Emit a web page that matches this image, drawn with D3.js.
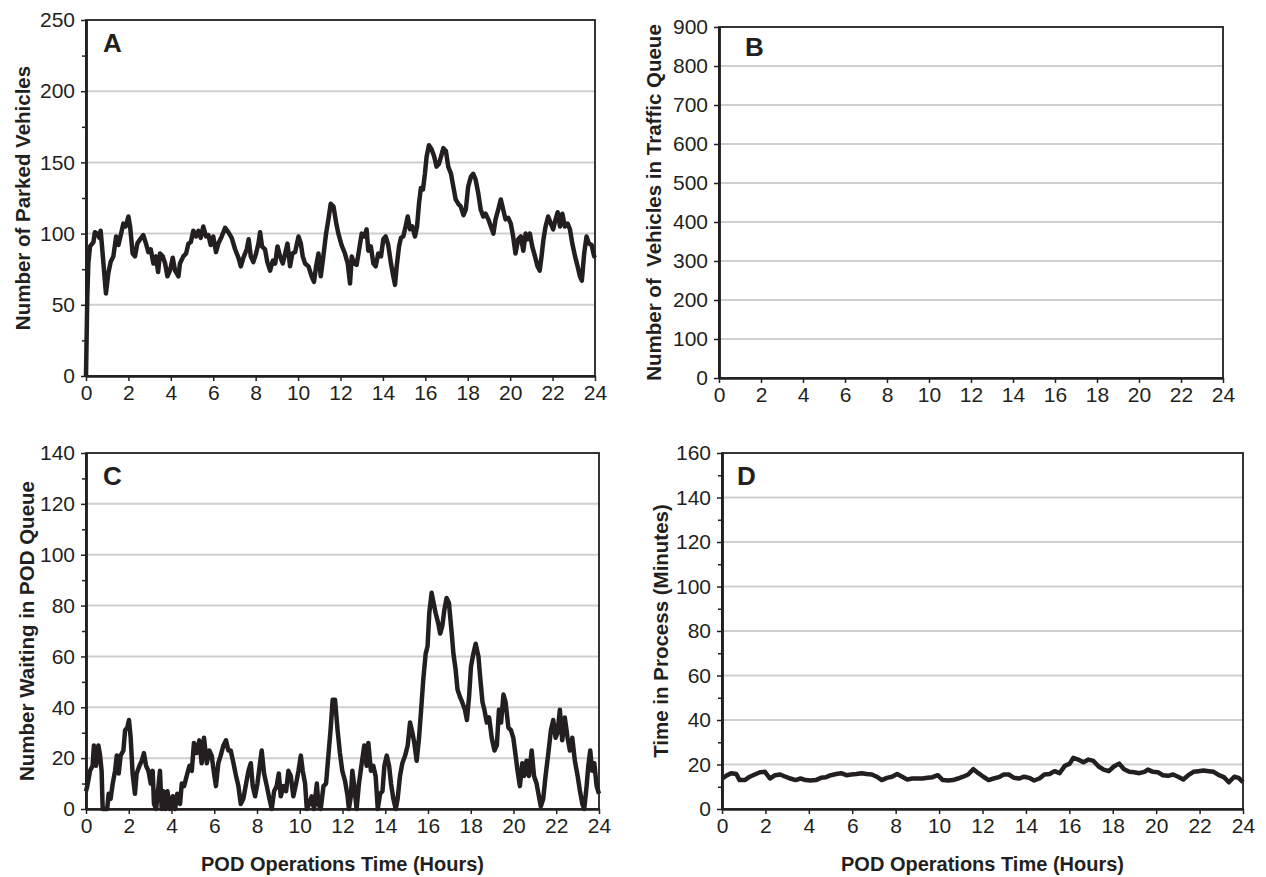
<!DOCTYPE html>
<html>
<head>
<meta charset="UTF-8">
<title>POD operations</title>
<style>
  body { margin: 0; background: #fff; }
  svg { display: block; font-family: "Liberation Sans", Arial, Helvetica, sans-serif; }
  .axis text { font-size: 21px; fill: #231f20; }
  .axis line, .axis path { stroke: #231f20; }
  .axis path.domain { stroke-width: 2.5px; }
  .axis .tick line { stroke-width: 1.5px; }
  .grid { stroke: #cfcfcf; stroke-width: 2px; }
  .frame { fill: none; stroke: #231f20; stroke-width: 1.8px; }
  .series { fill: none; stroke: #231f20; stroke-width: 4.5px; stroke-linejoin: round; }
  .ytitle { font-size: 20.5px; font-weight: bold; fill: #231f20; }
  .xtitle { font-size: 20px; font-weight: bold; fill: #231f20; }
  .letter { font-size: 26px; font-weight: bold; fill: #231f20; }
</style>
</head>
<body>
<svg width="1266" height="877"></svg>
<script src="https://cdn.jsdelivr.net/npm/d3@7"></script>
<script>
// x ticks shared by all panels (hours)
const hourTicks = [0, 2, 4, 6, 8, 10, 12, 14, 16, 18, 20, 22, 24];

// y ticks
const parkedTicks = [0, 50, 100, 150, 200, 250];
const parkedMinor = [25, 75, 125, 175, 225];
const trafficTicks = [0, 100, 200, 300, 400, 500, 600, 700, 800, 900];
const waitingTicks = [0, 20, 40, 60, 80, 100, 120, 140];
const waitingMinor = [10, 30, 50, 70, 90, 110, 130];
const processTicks = [0, 20, 40, 60, 80, 100, 120, 140, 160];
const processMinor = [10, 30, 50, 70, 90, 110, 130, 150];

// [hour, value]
const parkedVehicles = [[0,0],[0.06,55],[0.11,79],[0.19,91],[0.35,94],[0.42,101],[0.53,100],[0.63,97],[0.69,102],[0.75,92],[0.85,74],[0.94,58],[1.05,72],[1.16,80],[1.29,84],[1.42,98],[1.53,92],[1.64,99],[1.76,107],[1.87,105],[2.0,112],[2.08,105],[2.2,86],[2.31,84],[2.42,93],[2.55,96],[2.7,99],[2.83,93],[2.94,87],[3.05,89],[3.18,79],[3.3,84],[3.4,73],[3.49,86],[3.62,84],[3.73,79],[3.84,70],[3.96,74],[4.09,83],[4.2,74],[4.36,70],[4.43,79],[4.59,84],[4.72,86],[4.83,93],[4.94,94],[5.06,102],[5.19,98],[5.3,102],[5.41,97],[5.53,105],[5.66,98],[5.77,99],[5.88,92],[6.0,98],[6.13,87],[6.24,93],[6.4,98],[6.56,104],[6.71,101],[6.87,97],[7.03,89],[7.19,83],[7.3,77],[7.42,83],[7.58,89],[7.67,96],[7.77,84],[7.89,80],[8.02,86],[8.13,93],[8.21,101],[8.3,91],[8.44,89],[8.55,80],[8.68,74],[8.81,81],[8.92,79],[9.03,91],[9.15,84],[9.28,79],[9.39,86],[9.5,93],[9.62,77],[9.73,86],[9.86,87],[10.02,98],[10.13,93],[10.22,84],[10.33,79],[10.49,77],[10.64,70],[10.75,66],[10.85,77],[10.96,86],[11.07,70],[11.19,84],[11.32,100],[11.43,110],[11.54,121],[11.67,119],[11.79,108],[11.9,100],[12.05,92],[12.21,86],[12.34,79],[12.45,65],[12.53,84],[12.65,79],[12.76,78],[12.87,88],[13.0,100],[13.12,98],[13.23,103],[13.31,88],[13.43,91],[13.55,79],[13.66,77],[13.78,86],[13.91,84],[14.02,96],[14.13,98],[14.25,92],[14.38,79],[14.49,70],[14.57,64],[14.65,77],[14.76,91],[14.85,97],[14.96,98],[15.07,105],[15.17,112],[15.28,103],[15.39,105],[15.51,98],[15.61,105],[15.7,121],[15.79,132],[15.89,131],[15.98,142],[16.06,154],[16.17,162],[16.3,159],[16.42,154],[16.53,147],[16.64,149],[16.74,154],[16.85,160],[16.97,158],[17.08,147],[17.21,142],[17.32,133],[17.43,124],[17.55,121],[17.67,119],[17.8,113],[17.91,117],[18.02,133],[18.15,140],[18.26,142],[18.37,138],[18.5,128],[18.61,117],[18.73,112],[18.84,114],[18.97,110],[19.09,105],[19.21,100],[19.31,110],[19.44,117],[19.56,124],[19.67,117],[19.78,110],[19.91,111],[20.03,107],[20.14,98],[20.25,86],[20.38,96],[20.5,98],[20.62,88],[20.73,100],[20.82,96],[20.93,100],[21.04,91],[21.17,84],[21.29,77],[21.39,74],[21.48,84],[21.57,96],[21.67,105],[21.79,112],[21.92,107],[22.03,103],[22.14,110],[22.24,115],[22.35,105],[22.46,114],[22.58,105],[22.71,107],[22.82,103],[22.93,93],[23.06,84],[23.18,77],[23.29,70],[23.38,67],[23.49,86],[23.6,98],[23.71,93],[23.84,92],[23.96,84],[24,85]];

// panel B has no data drawn
const trafficQueue = [];

const waitingInQueue = [[0,7],[0.06,9],[0.19,15],[0.31,17],[0.37,25],[0.47,17],[0.58,25],[0.66,21],[0.73,15],[0.78,0],[0.89,0],[0.99,0],[1.06,6],[1.15,4],[1.25,10],[1.36,15],[1.44,21],[1.53,14],[1.62,21],[1.75,23],[1.83,31],[1.93,32],[2.01,35],[2.09,28],[2.18,14],[2.29,6],[2.37,14],[2.5,17],[2.61,19],[2.71,22],[2.81,17],[2.92,15],[3.03,10],[3.12,15],[3.18,2],[3.28,0],[3.39,9],[3.46,15],[3.54,0],[3.62,7],[3.71,0],[3.81,7],[3.93,0],[4.06,5],[4.17,0],[4.27,6],[4.4,2],[4.48,10],[4.59,9],[4.71,13],[4.84,17],[4.95,15],[5.05,26],[5.18,22],[5.3,27],[5.41,18],[5.52,28],[5.65,18],[5.77,23],[5.88,21],[5.99,14],[6.08,9],[6.19,18],[6.3,21],[6.43,25],[6.55,27],[6.66,23],[6.77,23],[6.9,18],[7.02,13],[7.13,9],[7.24,2],[7.36,4],[7.49,10],[7.6,15],[7.71,18],[7.8,9],[7.91,5],[8.02,10],[8.14,18],[8.22,23],[8.33,14],[8.46,9],[8.58,4],[8.69,0],[8.8,7],[8.92,9],[9.02,14],[9.11,5],[9.24,9],[9.36,7],[9.47,15],[9.58,13],[9.7,5],[9.83,10],[9.94,15],[10.05,21],[10.14,15],[10.25,10],[10.33,0],[10.45,2],[10.56,5],[10.67,0],[10.8,10],[10.87,2],[10.98,0],[11.11,9],[11.23,10],[11.34,21],[11.45,32],[11.54,43],[11.65,43],[11.77,31],[11.88,22],[11.99,15],[12.12,11],[12.24,5],[12.3,0],[12.39,5],[12.46,15],[12.55,9],[12.66,0],[12.77,10],[12.9,18],[13.02,25],[13.13,17],[13.21,26],[13.33,15],[13.44,17],[13.55,13],[13.65,0],[13.76,6],[13.87,7],[13.96,17],[14.07,21],[14.18,17],[14.27,10],[14.38,4],[14.49,0],[14.58,4],[14.69,13],[14.8,18],[14.93,21],[15.05,25],[15.16,34],[15.27,30],[15.36,26],[15.47,19],[15.58,28],[15.67,38],[15.78,51],[15.89,61],[15.98,64],[16.06,77],[16.17,85],[16.26,81],[16.36,77],[16.48,73],[16.57,69],[16.67,72],[16.76,78],[16.87,83],[16.98,81],[17.1,70],[17.19,61],[17.29,55],[17.38,47],[17.5,44],[17.6,42],[17.73,39],[17.82,35],[17.92,44],[18.01,56],[18.12,61],[18.23,65],[18.36,60],[18.45,51],[18.55,42],[18.64,39],[18.75,34],[18.86,36],[18.98,28],[19.11,23],[19.22,25],[19.32,39],[19.42,34],[19.53,45],[19.63,42],[19.76,32],[19.88,31],[19.99,28],[20.1,21],[20.19,15],[20.3,9],[20.41,18],[20.5,13],[20.61,19],[20.72,13],[20.85,23],[20.96,13],[21.08,10],[21.19,5],[21.28,1],[21.39,4],[21.5,13],[21.63,22],[21.75,31],[21.86,35],[21.97,28],[22.06,30],[22.17,39],[22.28,27],[22.4,36],[22.53,28],[22.64,23],[22.75,28],[22.87,19],[23.0,13],[23.11,7],[23.22,2],[23.31,0],[23.42,9],[23.5,17],[23.59,23],[23.68,15],[23.78,18],[23.89,9],[24,6]];

const timeInProcess = [[0,13.7],[0.19,14.9],[0.42,16.1],[0.66,15.7],[0.81,13],[1.05,13],[1.28,14.5],[1.51,15.5],[1.75,16.5],[1.98,16.7],[2.21,13.7],[2.45,15.2],[2.68,15.5],[2.92,14.5],[3.15,13.7],[3.39,13],[3.62,13.7],[3.85,13],[4.09,12.8],[4.32,13],[4.56,14],[4.79,14.3],[5.02,15.2],[5.26,15.7],[5.49,16.1],[5.73,15.2],[5.96,15.5],[6.19,15.7],[6.43,16.1],[6.66,15.7],[6.9,15.5],[7.13,14.5],[7.36,13],[7.6,14],[7.83,14.5],[8.07,15.7],[8.3,14.5],[8.53,13.3],[8.77,13.7],[9.0,13.7],[9.24,13.7],[9.47,14],[9.7,14.3],[9.94,15.2],[10.17,13],[10.41,12.8],[10.64,13],[10.87,13.7],[11.11,14.5],[11.34,15.5],[11.58,17.9],[11.81,16.1],[12.04,14.5],[12.28,13],[12.51,13.7],[12.75,14.3],[12.98,15.5],[13.21,15.5],[13.45,14],[13.68,13.7],[13.92,14.5],[14.15,14],[14.38,12.8],[14.62,13.7],[14.85,15.5],[15.09,15.7],[15.32,17],[15.55,16.1],[15.79,19.4],[16.02,20.4],[16.18,23],[16.41,22.2],[16.65,21],[16.88,22.2],[17.11,21.6],[17.35,19.1],[17.58,17.7],[17.82,17],[18.05,19.1],[18.29,20.4],[18.52,17.9],[18.76,16.7],[18.99,16.5],[19.22,16.1],[19.46,16.7],[19.62,17.7],[19.85,16.7],[20.08,16.5],[20.31,15.2],[20.55,14.9],[20.78,15.5],[21.01,14.5],[21.25,13.3],[21.48,15.2],[21.72,16.7],[21.95,17],[22.18,17.3],[22.42,17],[22.65,16.7],[22.89,15.2],[23.12,14.3],[23.35,12],[23.6,14.5],[23.8,14],[24,12]];

const svg = d3.select("svg");

const panels = [
  { letter: "A", data: parkedVehicles, max: 250, ticks: parkedTicks, minor: parkedMinor,
    title: "Number of Parked Vehicles", left: 86, right: 595, top: 20, bottom: 376, titleX: 23, lx: 17, ly: 32 },
  { letter: "B", data: trafficQueue, max: 900, ticks: trafficTicks, minor: [],
    title: "Number of  Vehicles in Traffic Queue", left: 719, right: 1223, top: 27, bottom: 378, titleX: 654, lx: 26, ly: 29 },
  { letter: "C", data: waitingInQueue, max: 140, ticks: waitingTicks, minor: waitingMinor,
    title: "Number Waiting in POD Queue", left: 86, right: 599, top: 453, bottom: 809, titleX: 27, lx: 17, ly: 32, xTitle: true },
  { letter: "D", data: timeInProcess, max: 160, ticks: processTicks, minor: processMinor,
    title: "Time in Process (Minutes)", left: 722, right: 1243, top: 453, bottom: 809, titleX: 661, lx: 15, ly: 32, xTitle: true }
];

panels.forEach(p => {
  const x = d3.scaleLinear().domain([0, 24]).range([p.left, p.right]);
  const y = d3.scaleLinear().domain([0, p.max]).range([p.bottom, p.top]);
  const g = svg.append("g");

  g.selectAll(".grid")
    .data(p.ticks.filter(t => t > 0 && t < p.max))
    .enter().append("line")
    .attr("class", "grid")
    .attr("x1", p.left).attr("x2", p.right)
    .attr("y1", d => y(d)).attr("y2", d => y(d));

  g.append("rect")
    .attr("class", "frame")
    .attr("x", p.left).attr("y", p.top)
    .attr("width", p.right - p.left).attr("height", p.bottom - p.top);

  g.append("g")
    .attr("class", "axis")
    .attr("transform", `translate(${p.left},0)`)
    .call(d3.axisLeft(y).tickValues(p.minor).tickSize(4).tickFormat("").tickSizeOuter(0));

  g.append("g")
    .attr("class", "axis")
    .attr("transform", `translate(${p.left},0)`)
    .call(d3.axisLeft(y).tickValues(p.ticks).tickSize(5).tickPadding(6).tickSizeOuter(0));

  g.append("g")
    .attr("class", "axis")
    .attr("transform", `translate(0,${p.bottom})`)
    .call(d3.axisBottom(x).tickValues(hourTicks).tickSize(5).tickPadding(4).tickSizeOuter(0));

  if (p.data.length) {
    g.append("path")
      .datum(p.data)
      .attr("class", "series")
      .attr("d", d3.line().x(d => x(d[0])).y(d => y(d[1])));
  }

  g.append("text")
    .attr("class", "letter")
    .attr("x", p.left + p.lx)
    .attr("y", p.top + p.ly)
    .text(p.letter);

  g.append("text")
    .attr("class", "ytitle")
    .attr("text-anchor", "middle")
    .attr("transform", `translate(${p.titleX},${(p.top + p.bottom) / 2}) rotate(-90)`)
    .attr("dy", "0.35em")
    .style("white-space", "pre")
    .text(p.title);

  if (p.xTitle) {
    g.append("text")
      .attr("class", "xtitle")
      .attr("text-anchor", "middle")
      .attr("x", (p.left + p.right) / 2)
      .attr("y", 871)
      .text("POD Operations Time (Hours)");
  }
});
</script>
</body>
</html>
